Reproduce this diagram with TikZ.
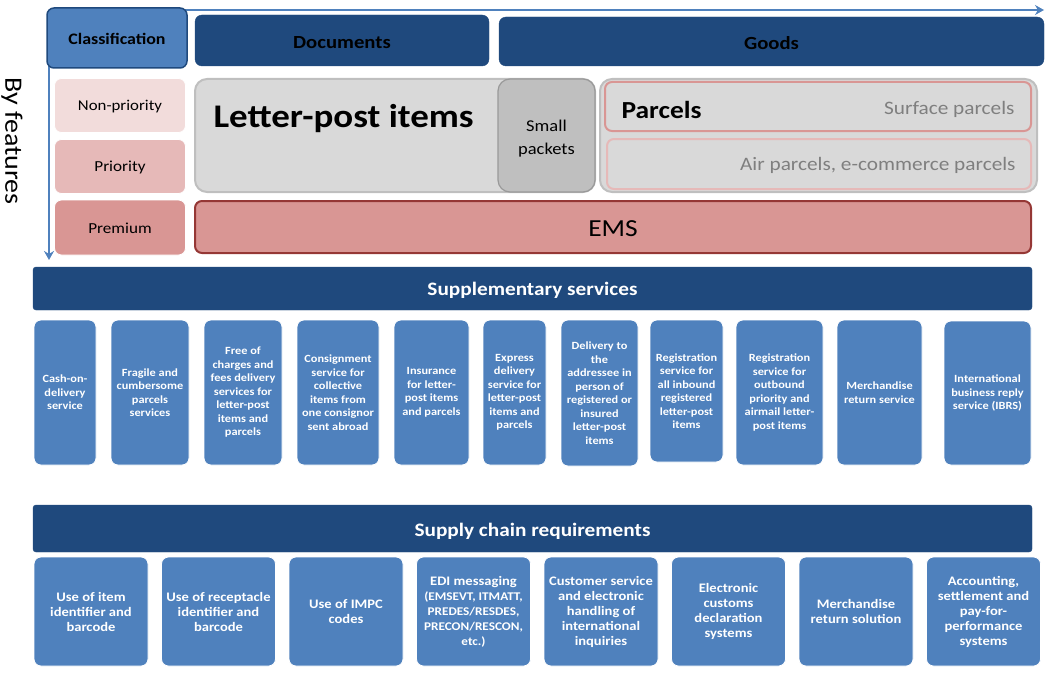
\documentclass[tikz,border=0pt]{standalone}
\usepackage{fontspec}
\setmainfont[FakeStretch=1.12]{Carlito}
\usetikzlibrary{arrows.meta}
\definecolor{dkblue}{HTML}{1F497D}
\definecolor{mdblue}{HTML}{4F81BD}
\definecolor{pink1}{HTML}{F2DCDB}
\definecolor{pink2}{HTML}{E6B9B8}
\definecolor{pink3}{HTML}{D99694}
\definecolor{dkred}{HTML}{953735}
\definecolor{lgray}{HTML}{D9D9D9}
\definecolor{mgray}{HTML}{BFBFBF}
\definecolor{tgray}{HTML}{7F7F7F}
\newcommand\lowerby[2]{\raisebox{-#1}[\height][\depth]{#2}}
\tikzset{
  box/.style={rounded corners=7pt, inner sep=0pt, align=center},
  head/.style={box, fill=dkblue, draw=dkblue, font=\bfseries\fontsize{18.5}{20}\selectfont},
  bar/.style={box, fill=dkblue, draw=dkblue, text=white, rounded corners=3pt, minimum width=999pt, font=\bfseries\fontsize{19}{22}\selectfont},
  feat/.style={box, draw=white, line width=0.8pt, font=\fontsize{15.3}{18}\selectfont},
  sbox/.style={box, fill=mdblue, draw=white, line width=0.8pt, text=white, font=\bfseries\fontsize{11}{13.5}\selectfont},
  rbox/.style={box, fill=mdblue, draw=white, line width=0.8pt, text=white, font=\bfseries\fontsize{13}{15}\selectfont, minimum width=114pt, minimum height=109pt},
  axis/.style={mdblue, line width=2.5pt, -{Stealth[length=9pt,width=10pt]}},
}
\begin{document}
\begin{tikzpicture}[x=1pt,y=-1pt]
\useasboundingbox (0,0) rectangle (1051,674);
% axes
\coordinate (o) at (49,10);
\coordinate (xe) at (1044,10);
\coordinate (ye) at (49,260);
\draw[axis] (o) -- (xe);
\draw[axis] (o) -- (ye);
\node[rotate=-90, font=\fontsize{25}{27}\selectfont] (byf) at (12,141) {By features};
% top row
\node[box, fill=mdblue, draw=dkblue, line width=1.5pt, minimum width=140pt, minimum height=60pt, font=\bfseries\fontsize{16}{18}\selectfont] (cls) at (117,38) {\lowerby{1pt}{Classification}};
\node[head, minimum width=294pt, minimum height=51pt] (doc) at (342,40.5) {\lowerby{2pt}{Documents}};
\node[head, minimum width=545pt, minimum height=49pt] (goods) at (771.5,41.5) {\lowerby{2pt}{Goods}};
% features
\node[feat, fill=pink1, minimum width=131pt, minimum height=54pt, font=\fontsize{15}{18}\selectfont] (np) at (120,105.5) {\lowerby{1pt}{Non-priority}};
\node[feat, fill=pink2, minimum width=131pt, minimum height=54pt] (pr) at (120,166.5) {\lowerby{1pt}{Priority}};
\node[feat, fill=pink3, minimum width=131pt, minimum height=55pt] (pm) at (120,227.5) {\lowerby{1pt}{Premium}};
% letter post
\node[box, fill=lgray, draw=mgray, line width=2pt, rounded corners=12pt, minimum width=400pt, minimum height=113pt] (lp) at (395,135.5) {};
\node[anchor=west, font=\bfseries\fontsize{33}{36}\selectfont] (lpt) at (210,119) {Letter-post items};
\node[box, fill=mgray, draw=mgray!80!black, line width=1.2pt, rounded corners=12pt, minimum width=97pt, minimum height=113pt] (sp) at (546.5,135.5) {};
\node[align=center, font=\fontsize{16.5}{23}\selectfont] (spt) at (546.5,138.5) {Small\\packets};
% parcels
\node[box, fill=lgray, draw=mgray, line width=2pt, rounded corners=12pt, minimum width=437pt, minimum height=113pt] (par) at (818.5,135.5) {};
\node[box, fill=lgray, draw=pink3, line width=2pt, minimum width=426pt, minimum height=49pt] (surf) at (818,106.5) {};
\node[box, fill=lgray, draw=pink2, line width=2pt, minimum width=424pt, minimum height=50pt] (air) at (819,164) {};
\node[anchor=west, font=\bfseries\fontsize{24.5}{26}\selectfont] (part) at (618,110) {Parcels};
\node[anchor=east, text=tgray, font=\fontsize{19}{22}\selectfont] (surft) at (1018,109) {Surface parcels};
\node[anchor=east, text=tgray, font=\fontsize{19}{22}\selectfont] (airt) at (1019,165) {Air parcels, e-commerce parcels};
% EMS
\node[box, fill=pink3, draw=dkred, line width=2pt, minimum width=836pt, minimum height=52pt, font=\fontsize{24.5}{26}\selectfont] (ems) at (613,227) {\lowerby{2pt}{EMS}};
% supplementary
\node[bar, minimum height=43pt] (supp) at (532.5,288.5) {\lowerby{2pt}{Supplementary services}};
\node[sbox, minimum width=62pt, minimum height=145pt] (s1) at (65,392.5) {Cash-on-\\delivery\\service};
\node[sbox, minimum width=78pt, minimum height=145pt] (s2) at (150,392.5) {Fragile and\\cumbersome\\parcels\\services};
\node[sbox, minimum width=78pt, minimum height=145pt] (s3) at (243,392.5) {Free of\\charges and\\fees delivery\\services for\\letter-post\\items and\\parcels};
\node[sbox, minimum width=82pt, minimum height=145pt] (s4) at (338,392.5) {Consignment\\service for\\collective\\items from\\one consignor\\sent abroad};
\node[sbox, minimum width=75pt, minimum height=145pt] (s5) at (431.5,392.5) {Insurance\\for letter-\\post items\\and parcels};
\node[sbox, minimum width=63pt, minimum height=145pt] (s6) at (514.5,392.5) {Express\\delivery\\service for\\letter-post\\items and\\parcels};
\node[sbox, minimum width=77pt, minimum height=146pt] (s7) at (599.5,393) {Delivery to\\the\\addressee in\\person of\\registered or\\insured\\letter-post\\items};
\node[sbox, minimum width=73pt, minimum height=142pt] (s8) at (686.5,391) {Registration\\service for\\all inbound\\registered\\letter-post\\items};
\node[sbox, minimum width=87pt, minimum height=145pt] (s9) at (779.5,392.5) {Registration\\service for\\outbound\\priority and\\airmail letter-\\post items};
\node[sbox, minimum width=85pt, minimum height=145pt] (s10) at (879.5,392.5) {Merchandise\\return service};
\node[sbox, minimum width=87pt, minimum height=144pt] (s11) at (987.5,393) {International\\business reply\\service (IBRS)};
% supply chain
\node[bar, minimum height=47pt] (scr) at (532.5,528.5) {\lowerby{2.5pt}{Supply chain requirements}};
\node[rbox] (r1) at (91,611.5) {Use of item\\identifier and\\barcode};
\node[rbox] (r2) at (218.5,611.5) {Use of receptacle\\identifier and\\barcode};
\node[rbox] (r3) at (346,611.5) {Use of IMPC\\codes};
\node[rbox] (r4) at (473.5,611.5) {EDI messaging\\{\fontsize{11.8}{14}\selectfont(EMSEVT, ITMATT,}\\{\fontsize{11.8}{14}\selectfont PREDES/RESDES,}\\{\fontsize{11.8}{14}\selectfont PRECON/RESCON,}\\{\fontsize{11.8}{14}\selectfont etc.)}};
\node[rbox] (r5) at (601,611.5) {Customer service\\and electronic\\handling of\\international\\inquiries};
\node[rbox] (r6) at (728.5,611.5) {Electronic\\customs\\declaration\\systems};
\node[rbox] (r7) at (856,611.5) {Merchandise\\return solution};
\node[rbox] (r8) at (983.5,611.5) {Accounting,\\settlement and\\pay-for-\\performance\\systems};
\end{tikzpicture}
\end{document}
